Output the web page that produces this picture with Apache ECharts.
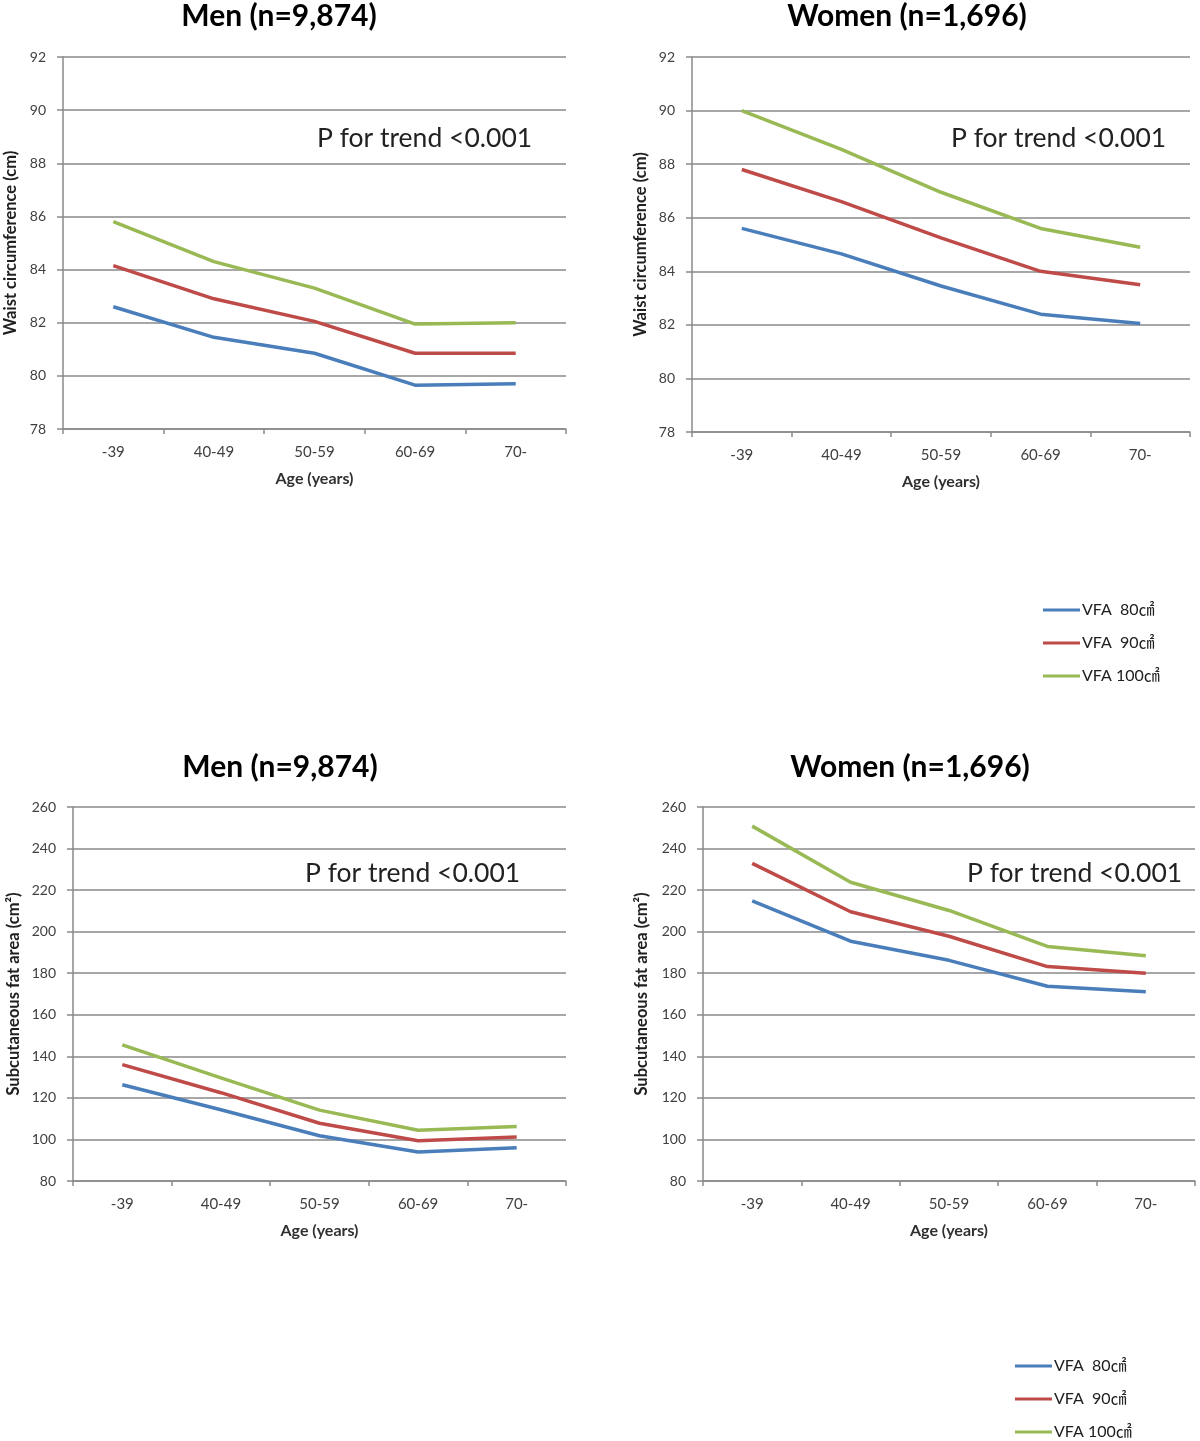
<!DOCTYPE html>
<html>
<head>
<meta charset="utf-8">
<script src="https://cdn.jsdelivr.net/npm/echarts@6/dist/echarts.min.js"></script>
<style>
html,body{margin:0;padding:0;background:#fff;}
#main{width:1200px;height:1441px;}
</style>
</head>
<body>
<div id="main"></div>
<script>
// ---------- data ----------
const ageGroups = ['-39', '40-49', '50-59', '60-69', '70-'];
const seriesNames = ['VFA  80\u33A0', 'VFA  90\u33A0', 'VFA 100\u33A0'];

// Waist circumference (cm)
const menWaist80  = [82.6, 81.45, 80.85, 79.65, 79.7];
const menWaist90  = [84.15, 82.9, 82.05, 80.85, 80.85];
const menWaist100 = [85.8, 84.3, 83.3, 81.95, 82.0];

const womenWaist80  = [85.6, 84.65, 83.45, 82.4, 82.05];
const womenWaist90  = [87.8, 86.6, 85.25, 84.0, 83.5];
const womenWaist100 = [90.0, 88.55, 86.95, 85.6, 84.9];

// Subcutaneous fat area (cm2)
const menSfa80  = [126.3, 114.3, 101.8, 94.0, 96.0];
const menSfa90  = [136.0, 122.5, 107.8, 99.4, 101.2];
const menSfa100 = [145.5, 129.6, 114.1, 104.4, 106.2];

const womenSfa80  = [214.8, 195.4, 186.2, 173.7, 171.1];
const womenSfa90  = [232.9, 209.6, 197.8, 183.2, 180.0];
const womenSfa100 = [250.8, 223.8, 210.2, 192.9, 188.4];

const waistTicks = {min: 78, max: 92, interval: 2};
const sfaTicks = {min: 80, max: 260, interval: 20};

const panelTitles = ['Men (n=9,874)', 'Women (n=1,696)', 'Men (n=9,874)', 'Women (n=1,696)'];
const trendText = 'P for trend <0.001';
const xName = 'Age (years)';
const waistName = 'Waist circumference (cm)';
const sfaName = 'Subcutaneous fat area (cm\u00B2)';

// ---------- styling ----------
const FONT = 'Lato, "Noto Sans", "Noto Sans CJK KR", sans-serif';
const colors = ['#4A7EBB', '#BE4B48', '#98B954'];
const gridColor = '#8a8a8a';

const grids = [
  {left: 63, top: 57, width: 503, height: 372},
  {left: 692, top: 57, width: 498, height: 375},
  {left: 73, top: 807, width: 493, height: 374},
  {left: 703, top: 807, width: 492, height: 374}
];

function xAxisDef(i) {
  return {
    type: 'category', gridIndex: i, data: ageGroups, boundaryGap: true,
    axisLine: {lineStyle: {color: gridColor, width: 1.5}},
    axisTick: {show: true, alignWithLabel: false, length: 5, inside: false, lineStyle: {color: gridColor, width: 1.5}},
    axisLabel: {color: '#404040', fontFamily: FONT, fontSize: 15, margin: 16},
    name: xName, nameLocation: 'middle', nameGap: 42,
    nameTextStyle: {color: '#303030', fontFamily: FONT, fontSize: 16, fontWeight: 'bold'}
  };
}
function yAxisDef(i, t, name, gap) {
  return {
    type: 'value', gridIndex: i, min: t.min, max: t.max, interval: t.interval,
    axisLine: {show: true, lineStyle: {color: gridColor, width: 1.5}},
    axisTick: {show: true, length: 6, lineStyle: {color: gridColor, width: 1.5}},
    axisLabel: {color: '#404040', fontFamily: FONT, fontSize: 14, margin: 17},
    splitLine: {show: true, lineStyle: {color: gridColor, width: 1.5}},
    name: name, nameLocation: 'middle', nameGap: gap, nameRotate: 90,
    nameTextStyle: {color: '#202020', fontFamily: FONT, fontSize: 16.5, fontWeight: 'bold'}
  };
}

const panelData = [
  [menWaist80, menWaist90, menWaist100],
  [womenWaist80, womenWaist90, womenWaist100],
  [menSfa80, menSfa90, menSfa100],
  [womenSfa80, womenSfa90, womenSfa100]
];

const series = [];
panelData.forEach((arrs, gi) => {
  arrs.forEach((vals, si) => {
    series.push({
      name: seriesNames[si], type: 'line', xAxisIndex: gi, yAxisIndex: gi,
      data: vals, symbol: 'none', smooth: false,
      lineStyle: {color: colors[si], width: 3.5},
      itemStyle: {color: colors[si]},
      z: 5
    });
  });
});

const titlePos = [[279, 16], [907, 16], [280, 767], [910, 767]];
const trendPos = [[317, 138], [951, 138], [305, 873], [967, 873]];

const graphics = [];
titlePos.forEach((p, i) => {
  graphics.push({type: 'text', x: p[0], y: p[1], style: {text: panelTitles[i], fill: '#000', font: 'bold 30px ' + FONT, textAlign: 'center', textVerticalAlign: 'middle'}});
});
trendPos.forEach(p => {
  graphics.push({type: 'text', x: p[0], y: p[1], style: {text: trendText, fill: '#222', font: '26.5px ' + FONT, textAlign: 'left', textVerticalAlign: 'middle'}});
});

function legendDef(left, top) {
  return {
    data: seriesNames, left: left, top: top, orient: 'vertical',
    icon: 'rect', itemWidth: 37, itemHeight: 3, itemGap: 17,
    textStyle: {color: '#202020', fontFamily: FONT, fontSize: 16, padding: [0, 0, 0, -3]},
    selectedMode: false, padding: 0
  };
}

const chart = echarts.init(document.getElementById('main'), null, {renderer: 'canvas'});
chart.setOption({
  backgroundColor: '#fff',
  animation: false,
  grid: grids,
  xAxis: [0, 1, 2, 3].map(xAxisDef),
  yAxis: [
    yAxisDef(0, waistTicks, waistName, 44),
    yAxisDef(1, waistTicks, waistName, 43),
    yAxisDef(2, sfaTicks, sfaName, 51),
    yAxisDef(3, sfaTicks, sfaName, 53)
  ],
  legend: [legendDef(1043, 602), legendDef(1015, 1358)],
  series: series,
  graphic: graphics
});
</script>
</body>
</html>
